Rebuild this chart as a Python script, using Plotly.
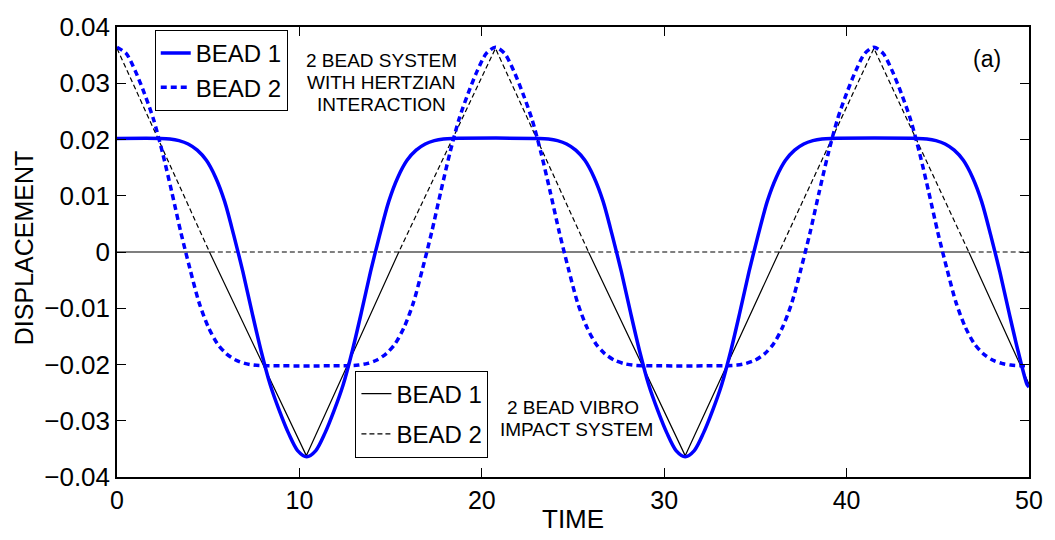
import plotly.graph_objects as go

# ---------------- data ----------------
# Hertzian system, bead 1 (blue solid)
hz_b1_t = [0.0,
           2.4, 2.9, 3.4, 3.9, 4.4, 4.9, 5.4, 5.9, 6.4, 6.9, 7.4, 7.9, 8.4, 8.9, 9.4, 9.9,
           10.4, 10.9, 11.4, 11.9, 12.4, 12.9, 13.4, 13.9, 14.4, 14.9, 15.4, 15.9, 16.4, 16.9,
           17.4, 17.9, 18.4,
           23.15, 23.65, 24.15, 24.65, 25.15, 25.65, 26.15, 26.65, 27.15, 27.65, 28.15, 28.65,
           29.15, 29.65, 30.15, 30.65, 31.15, 31.65, 32.15, 32.65, 33.15, 33.65, 34.15, 34.65,
           35.15, 35.65, 36.15, 36.65, 37.15, 37.65, 38.15, 38.65, 39.15,
           43.9, 44.4, 44.9, 45.4, 45.9, 46.4, 46.9, 47.4, 47.9, 48.4, 48.9, 49.4, 49.9, 50.0]
hz_b1_y = [0.0202,
           0.0202, 0.0201, 0.0198, 0.0192, 0.0181, 0.0163, 0.0133, 0.0090, 0.0030, -0.0035,
           -0.0107, -0.0176, -0.0236, -0.0282, -0.0322, -0.0353, -0.0364, -0.0353, -0.0322,
           -0.0282, -0.0236, -0.0176, -0.0107, -0.0035, 0.0030, 0.0090, 0.0133, 0.0163, 0.0181,
           0.0192, 0.0198, 0.0201, 0.0202,
           0.0202, 0.0201, 0.0198, 0.0192, 0.0181, 0.0163, 0.0133, 0.0090, 0.0030, -0.0035,
           -0.0107, -0.0176, -0.0236, -0.0282, -0.0322, -0.0353, -0.0364, -0.0353, -0.0322,
           -0.0282, -0.0236, -0.0176, -0.0107, -0.0035, 0.0030, 0.0090, 0.0133, 0.0163, 0.0181,
           0.0192, 0.0198, 0.0201, 0.0202,
           0.0202, 0.0201, 0.0198, 0.0192, 0.0181, 0.0163, 0.0133, 0.0090, 0.0030, -0.0035,
           -0.0107, -0.0176, -0.0236, -0.0240]

# Hertzian system, bead 2 (blue dashed)
hz_b2_t = [0.0, 0.5, 1.0, 1.5, 2.0, 2.5, 3.0, 3.5, 4.0, 4.5, 5.0, 5.5, 6.0, 6.5, 7.0, 7.5, 8.0,
           12.75, 13.25, 13.75, 14.25, 14.75, 15.25, 15.75, 16.25, 16.75, 17.25, 17.75, 18.25,
           18.75, 19.25, 19.75, 20.25, 20.75, 21.25, 21.75, 22.25, 22.75, 23.25, 23.75, 24.25,
           24.75, 25.25, 25.75, 26.25, 26.75, 27.25, 27.75, 28.25, 28.75,
           33.5, 34.0, 34.5, 35.0, 35.5, 36.0, 36.5, 37.0, 37.5, 38.0, 38.5, 39.0, 39.5, 40.0,
           40.5, 41.0, 41.5, 42.0, 42.5, 43.0, 43.5, 44.0, 44.5, 45.0, 45.5, 46.0, 46.5, 47.0,
           47.5, 48.0, 48.5, 49.0, 49.5, 50.0]
hz_b2_y = [0.0364, 0.0353, 0.0322, 0.0282, 0.0236, 0.0176, 0.0107, 0.0035, -0.0030, -0.0090,
           -0.0133, -0.0163, -0.0181, -0.0192, -0.0198, -0.0201, -0.0202,
           -0.0202, -0.0201, -0.0198, -0.0192, -0.0181, -0.0163, -0.0133, -0.0090, -0.0030,
           0.0035, 0.0107, 0.0176, 0.0236, 0.0282, 0.0322, 0.0353, 0.0364, 0.0353, 0.0322,
           0.0282, 0.0236, 0.0176, 0.0107, 0.0035, -0.0030, -0.0090, -0.0133, -0.0163, -0.0181,
           -0.0192, -0.0198, -0.0201, -0.0202,
           -0.0202, -0.0201, -0.0198, -0.0192, -0.0181, -0.0163, -0.0133, -0.0090, -0.0030,
           0.0035, 0.0107, 0.0176, 0.0236, 0.0282, 0.0322, 0.0353, 0.0364, 0.0353, 0.0322,
           0.0282, 0.0236, 0.0176, 0.0107, 0.0035, -0.0030, -0.0090, -0.0133, -0.0163, -0.0181,
           -0.0192, -0.0198, -0.0201, -0.0202, -0.0202]

# Vibro-impact system, bead 1 (black solid)
vi_b1_t = [0.0, 5.07, 10.38, 15.45, 25.85, 31.15, 36.3, 46.7, 50.0]
vi_b1_y = [0.0, 0.0, -0.0362, 0.0, 0.0, -0.0362, 0.0, 0.0, -0.0235]

# Vibro-impact system, bead 2 (black dashed)
vi_b2_t = [0.0, 5.07, 15.45, 20.75, 25.85, 36.3, 41.5, 46.7, 50.0]
vi_b2_y = [0.0362, 0.0, 0.0, 0.0362, 0.0, 0.0, 0.0362, 0.0, 0.0]

x_ticks = [0, 10, 20, 30, 40, 50]
x_ticktext = ["0", "10", "20", "30", "40", "50"]
y_ticks = [-0.04, -0.03, -0.02, -0.01, 0, 0.01, 0.02, 0.03, 0.04]
y_ticktext = ["\u22120.04", "\u22120.03", "\u22120.02", "\u22120.01", "0",
              "0.01", "0.02", "0.03", "0.04"]

legend_names = ["BEAD 1", "BEAD 2"]

# ---------------- figure ----------------
FONT = "Arial, Liberation Sans, sans-serif"

fig = go.Figure()

fig.add_trace(go.Scatter(x=vi_b1_t, y=vi_b1_y, mode="lines", name=legend_names[0],
                         line=dict(color="black", width=1.2), legend="legend2",
                         legendgroup="v1"))
fig.add_trace(go.Scatter(x=vi_b2_t, y=vi_b2_y, mode="lines", name=legend_names[1],
                         line=dict(color="black", width=1.2, dash="5px,3px"),
                         legend="legend2", legendgroup="v2"))
fig.add_trace(go.Scatter(x=hz_b1_t, y=hz_b1_y, mode="lines", name=legend_names[0],
                         line=dict(color="#0000FF", width=3.5, shape="spline", smoothing=0.8),
                         legend="legend", legendgroup="h1"))
fig.add_trace(go.Scatter(x=hz_b2_t, y=hz_b2_y, mode="lines", name=legend_names[1],
                         line=dict(color="#0000FF", width=3.5, dash="6px,4px",
                                   shape="spline", smoothing=0.8),
                         legend="legend", legendgroup="h2"))

axis_common = dict(showline=True, linecolor="black", linewidth=1.5, mirror="allticks",
                   ticks="inside", ticklen=9, tickcolor="black", tickwidth=1,
                   showgrid=False, zeroline=False)

fig.update_xaxes(range=[0, 50], tickvals=x_ticks, ticktext=x_ticktext,
                 tickfont=dict(family=FONT, size=25, color="black"), **axis_common)
fig.update_yaxes(range=[-0.04, 0.04], tickvals=y_ticks, ticktext=y_ticktext,
                 tickfont=dict(family=FONT, size=26, color="black"), **axis_common)

legend_common = dict(bgcolor="white", bordercolor="black", borderwidth=1,
                     font=dict(family=FONT, size=24, color="black"),
                     xanchor="left", yanchor="top", itemwidth=30)

plot_l, plot_r, plot_t, plot_b = 117, 1035, 16, 477


def fx(px):
    return (px - plot_l) / (plot_r - plot_l)


def fy(py):
    return (plot_b - py) / (plot_b - plot_t)


texts = [
    ("2 BEAD SYSTEM", 383, 50, 19, 0),
    ("WITH HERTZIAN", 383, 73, 19, 0),
    ("INTERACTION", 383, 95, 19, 0),
    ("(a)", 993, 49, 23, 0),
    ("2 BEAD VIBRO", 576, 406, 19, 0),
    ("IMPACT SYSTEM", 580, 428, 19, 0),
    ("TIME", 576, 520, 26, 0),
    ("DISPLACEMENT", 23, 243, 25, -90),
]
anns = []
for t, px, py, sz, ang in texts:
    anns.append(dict(text=t, x=fx(px), y=fy(py), xref="x domain", yref="y domain",
                     showarrow=False, xanchor="center", yanchor="middle", textangle=ang,
                     font=dict(family=FONT, size=sz, color="black")))

fig.update_layout(
    width=1055, height=540,
    margin=dict(l=plot_l, r=1055 - plot_r, t=plot_t, b=540 - plot_b),
    paper_bgcolor="white", plot_bgcolor="white",
    showlegend=True,
    legend=dict(x=fx(155), y=fy(19), tracegroupgap=0, **legend_common),
    legend2=dict(x=fx(357), y=fy(368), tracegroupgap=6, **legend_common),
    annotations=anns,
)

fig.write_html("out.html")
